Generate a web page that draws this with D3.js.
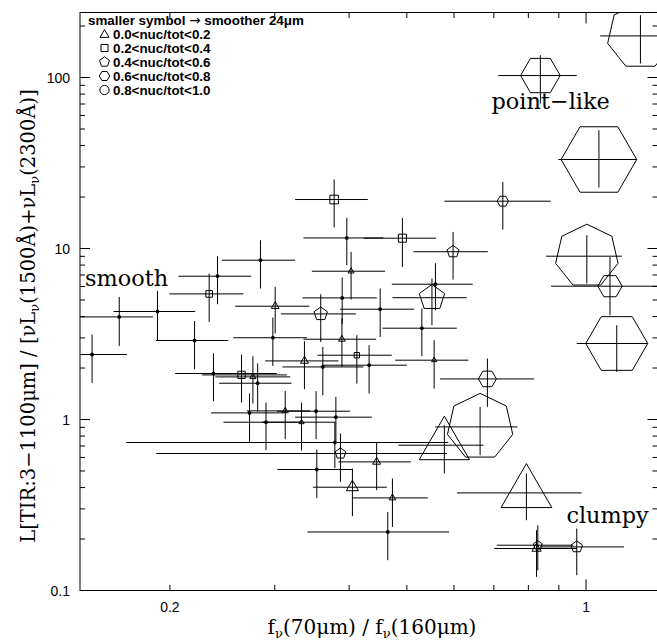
<!DOCTYPE html>
<html>
<head>
<meta charset="utf-8">
<script src="https://cdn.jsdelivr.net/npm/d3@7"></script>
<style>
  body { margin: 0; background: #fff; }
  svg { display: block; }
</style>
</head>
<body>
<svg id="chart" width="657" height="640"></svg>
<script>
// f_nu(70um)/f_nu(160um) colour of each galaxy
const farIRColour = [
  0.148, 0.1644, 0.1906, 0.2200, 0.2328, 0.2404, 0.2839, 0.3005, 0.2978, 0.3775,
  0.3964, 0.4915, 0.5979, 0.7247, 0.4030, 0.3894, 0.4510, 0.5510, 0.5585, 0.5299,
  0.5557, 0.3584, 0.3890, 0.4121, 0.4321, 0.3613, 0.3365, 0.2367, 0.2638, 0.2757,
  0.2808, 0.2721, 0.3124, 0.3520, 0.2900, 0.3327, 0.3800, 0.3785, 0.3868, 0.4449,
  0.3530, 0.4051, 0.4729, 0.4645, 0.5781, 0.6638, 0.6828, 0.7940, 0.8297, 0.8257,
  0.9647, 1.234, 0.8381, 1.051, 1.003, 1.097, 1.126
];
const colourLow = [
  0.13, 0.125, 0.1608, 0.1894, 0.1995, 0.2067, 0.2445, 0.2574, 0.2555, 0.3246,
  0.3352, 0.4227, 0.5129, 0.5781, 0.3463, 0.3339, 0.3864, 0.4729, 0.4718, 0.4550,
  0.4779, 0.3072, 0.3352, 0.3539, 0.3599, 0.3091, 0.2891, 0.2041, 0.2263, 0.2383,
  0.2419, 0.2344, 0.2694, 0.3025, 0.2460, 0.2855, 0.3246, 0.1689, 0.1897, 0.3838,
  0.3032, 0.3477, 0.4043, 0.3404, 0.4840, 0.5578, 0.5687, 0.6072, 0.7081, 0.7007,
  0.8371, 1.056, 0.7122, 0.8985, 0.8567, 0.8734, 0.9647
];
const colourHigh = [
  0.1694, 0.1873, 0.2206, 0.2507, 0.2658, 0.2738, 0.3246, 0.3430, 0.3397, 0.4300,
  0.4566, 0.5600, 0.6839, 0.8723, 0.4597, 0.4452, 0.5144, 0.6304, 0.6452, 0.6065,
  0.6343, 0.4106, 0.4440, 0.4718, 0.5000, 0.4227, 0.3838, 0.3025, 0.3144, 0.3184,
  0.3202, 0.3102, 0.3440, 0.4015, 0.3331, 0.3790, 0.4367, 0.5871, 0.5835, 0.5078,
  0.4043, 0.4628, 0.5422, 0.5888, 0.6723, 0.7670, 0.8179, 0.9827, 0.9521, 0.9658,
  1.158, 1.45, 0.9647, 1.217, 1.148, 1.40, 1.269
];
// L(TIR) / [nuL_nu(1500A) + nuL_nu(2300A)]
const irxRatio = [
  2.399, 3.981, 4.281, 2.897, 5.427, 6.887, 8.543, 4.598, 3.008, 19.34,
  11.53, 11.49, 9.579, 18.91, 7.365, 5.142, 4.416, 5.156, 6.183, 3.420,
  2.223, 4.145, 2.948, 2.377, 2.078, 2.030, 2.201, 1.858, 1.823, 1.775,
  1.630, 1.093, 1.123, 1.118, 0.9643, 0.9643, 1.032, 0.7336, 0.6326, 0.5650,
  0.5100, 0.4018, 0.3479, 0.2199, 0.7075, 0.9052, 1.727, 0.3722, 0.1840, 0.1760,
  0.1799, 175.1, 102.7, 33.16, 9.016, 6.020, 2.783
];
const irxHigh = [
  3.141, 5.212, 5.649, 3.772, 7.142, 9.016, 11.18, 5.963, 3.950, 25.32,
  15.10, 15.10, 12.51, 24.52, 9.553, 6.768, 5.835, 6.677, 8.204, 4.458,
  2.909, 5.405, 3.912, 3.112, 2.720, 2.658, 2.870, 2.442, 2.399, 2.345,
  2.126, 1.419, 1.470, 1.464, 1.257, 1.257, 1.356, 0.9682, 0.8283, 0.7396,
  0.6677, 0.5170, 0.4518, 0.2881, 0.9262, 1.185, 2.274, 0.4833, 0.2409, 0.2253,
  0.2305, 231.4, 135.0, 49.18, 11.96, 8.930, 3.560
];
const irxLow = [
  1.637, 2.694, 2.909, 1.968, 3.722, 4.724, 5.835, 3.184, 2.058, 13.27,
  7.986, 7.806, 6.588, 12.91, 5.030, 3.608, 3.041, 3.560, 4.357, 2.345,
  1.518, 2.843, 2.030, 1.624, 1.419, 1.387, 1.504, 1.279, 1.257, 1.240,
  1.108, 0.7396, 0.7670, 0.7670, 0.6615, 0.6588, 0.7466, 0.5190, 0.4316, 0.3861,
  0.3479, 0.2720, 0.2354, 0.1504, 0.4833, 0.6182, 1.185, 0.2577, 0.1314, 0.1201,
  0.1229, 120.8, 70.47, 22.74, 6.242, 4.073, 1.898
];
// nuc/tot bin of the 24um light: -1 = no decomposition, 0..4 = bins of 0.2
const nucBin = [
  -1, -1, -1, -1, 1, -1, -1, 0, -1, 1,
  -1, 1, 2, 3, 0, -1, -1, 2, -1, -1,
  0, 2, 0, 1, -1, -1, 0, -1, 1, 0,
  -1, -1, 0, -1, -1, 0, -1, -1, 2, 0,
  -1, 0, 0, -1, 0, 4, 3, 0, 2, 0,
  2, 4, 3, 3, 4, 3, 3
];
// symbol size: smaller symbol -> smoother 24um morphology
const symbolSize = [
  0, 0, 0, 0, 0.94, 0, 0, 0.9, 0, 1.22,
  0, 1.14, 1.26, 1.14, 0.7, 0, 0, 2.66, 0, 0,
  0.6, 1.4, 0.78, 0.76, 0, 0, 0.92, 0, 1.04, 0.7,
  0, 0, 0.7, 0, 0, 0.6, 0, 0, 1.12, 0.92,
  0, 1.4, 0.78, 0, 5.8, 6.7, 1.8, 5.86, 0.92, 1.08,
  1.2, 6.72, 3.96, 7.56, 6.4, 2.44, 6.2
];
const binLabels = ["0.0<nuc/tot<0.2", "0.2<nuc/tot<0.4", "0.4<nuc/tot<0.6", "0.6<nuc/tot<0.8", "0.8<nuc/tot<1.0"];
const binSides = [3, 4, 5, 6, 7];
const xTickLabels = [0.2, 1];
const yTickLabels = [0.1, 1, 10, 100];
const regionLabels = ["smooth", "point\u2212like", "clumpy"];
const regionAt = [[0.1440, 6.04], [0.6937, 65.2], [0.9268, 0.2472]];

const svg = d3.select("#chart");
const frameL = 80, frameR = 657.5, frameT = 12.5, frameB = 590.5;
const x = d3.scaleLog().domain([Math.pow(10, -0.85), Math.pow(10, 0.12)]).range([frameL, frameR]);
const y = d3.scaleLog().domain([0.1, 240]).range([frameB, frameT]);
const radius = d3.scaleLinear().domain([0, 1]).range([0, 5]);

const serif = "'DejaVu Serif', serif";
const sans = "'Liberation Sans', Arial, sans-serif";

function polygon(cx, cy, n, R) {
  const start = n === 6 ? 0 : n === 4 ? Math.PI / 4 : -Math.PI / 2;
  const pts = d3.range(n).map(k => {
    const a = start + k * 2 * Math.PI / n;
    return [cx + R * Math.cos(a), cy + R * Math.sin(a)];
  });
  return "M" + pts.map(p => p[0].toFixed(2) + "," + p[1].toFixed(2)).join("L") + "Z";
}

svg.append("defs").append("clipPath").attr("id", "plotArea")
  .append("rect").attr("x", frameL).attr("y", frameT)
  .attr("width", frameR - frameL).attr("height", frameB - frameT);

// data marks
const data = farIRColour.map((v, i) => ({
  x: v, xl: colourLow[i], xh: colourHigh[i],
  y: irxRatio[i], yl: irxLow[i], yh: irxHigh[i],
  bin: nucBin[i], size: symbolSize[i]
}));

const marks = svg.append("g").attr("clip-path", "url(#plotArea)")
  .attr("stroke", "#000").attr("fill", "none").attr("stroke-width", 1);

marks.selectAll("line.xerr").data(data).join("line").attr("class", "xerr")
  .attr("x1", d => x(d.xl)).attr("x2", d => x(d.xh))
  .attr("y1", d => y(d.y)).attr("y2", d => y(d.y));
marks.selectAll("line.yerr").data(data).join("line").attr("class", "yerr")
  .attr("x1", d => x(d.x)).attr("x2", d => x(d.x))
  .attr("y1", d => y(d.yl)).attr("y2", d => y(d.yh));

marks.selectAll("circle.dot").data(data.filter(d => d.bin < 0)).join("circle")
  .attr("class", "dot")
  .attr("cx", d => x(d.x)).attr("cy", d => y(d.y)).attr("r", 1.9)
  .attr("fill", "#000").attr("stroke", "none");

marks.selectAll("path.sym").data(data.filter(d => d.bin >= 0)).join("path")
  .attr("class", "sym")
  .attr("d", d => polygon(x(d.x), y(d.y), binSides[d.bin], radius(d.size)));

// frame and ticks
const axes = svg.append("g").attr("stroke", "#000").attr("stroke-width", 1);
axes.append("rect").attr("x", frameL).attr("y", frameT)
  .attr("width", frameR - frameL).attr("height", frameB - frameT).attr("fill", "none");

const isDecade = v => Math.abs(Math.log10(v) - Math.round(Math.log10(v))) < 1e-6;
x.ticks().forEach(v => {
  const len = isDecade(v) ? 11 : 5.5;
  const px = x(v);
  axes.append("line").attr("x1", px).attr("x2", px).attr("y1", frameB).attr("y2", frameB - len);
  axes.append("line").attr("x1", px).attr("x2", px).attr("y1", frameT).attr("y2", frameT + len);
});
y.ticks().forEach(v => {
  const len = isDecade(v) ? 10 : 5;
  const py = y(v);
  axes.append("line").attr("x1", frameL).attr("x2", frameL + len).attr("y1", py).attr("y2", py);
  axes.append("line").attr("x1", frameR).attr("x2", frameR - len).attr("y1", py).attr("y2", py);
});

// tick labels
svg.append("g").selectAll("text").data(xTickLabels).join("text")
  .attr("x", d => x(d)).attr("y", 612).attr("text-anchor", "middle")
  .attr("font-family", sans).attr("font-size", 14).text(d => d);
svg.append("g").selectAll("text").data(yTickLabels).join("text")
  .attr("x", 70).attr("y", d => y(d) + 5).attr("text-anchor", "end")
  .attr("font-family", sans).attr("font-size", 14).text(d => d);

// axis titles
const xTitle = svg.append("text").attr("x", 372).attr("y", 634)
  .attr("text-anchor", "middle").attr("font-family", serif).attr("font-size", 20);
xTitle.append("tspan").text("f");
xTitle.append("tspan").attr("font-size", 13).attr("dy", 4).text("\u03bd");
xTitle.append("tspan").attr("dy", -4).text("(70\u03bcm) / f");
xTitle.append("tspan").attr("font-size", 13).attr("dy", 4).text("\u03bd");
xTitle.append("tspan").attr("dy", -4).text("(160\u03bcm)");

const yTitle = svg.append("text")
  .attr("transform", "translate(35,316) rotate(-90)")
  .attr("text-anchor", "middle").attr("font-family", serif).attr("font-size", 19.5);
yTitle.append("tspan").text("L[TIR:3\u22121100\u03bcm] / [\u03bdL");
yTitle.append("tspan").attr("font-size", 13).attr("dy", 4).text("\u03bd");
yTitle.append("tspan").attr("dy", -4).text("(1500\u00c5)+\u03bdL");
yTitle.append("tspan").attr("font-size", 13).attr("dy", 4).text("\u03bd");
yTitle.append("tspan").attr("dy", -4).text("(2300\u00c5)]");

// region annotations
svg.append("g").selectAll("text").data(regionLabels).join("text")
  .attr("x", (d, i) => x(regionAt[i][0])).attr("y", (d, i) => y(regionAt[i][1]))
  .attr("font-family", serif).attr("font-size", 22.4).text(d => d);

// legend
const legend = svg.append("g").attr("font-family", sans).attr("font-weight", "bold").attr("font-size", 13.4);
const head = legend.append("text").attr("x", 88).attr("y", 25);
head.append("tspan").text("smaller symbol ");
head.append("tspan").attr("font-family", "'DejaVu Sans', sans-serif").attr("font-weight", "normal").text("\u2192");
head.append("tspan").text(" smoother 24\u03bcm");
binLabels.forEach((t, i) => {
  const cy = 34 + 14 * i;
  if (i < 4) {
    legend.append("path").attr("d", polygon(104.5, cy + (i === 0 ? 0.8 : 0), binSides[i], i === 1 ? 5 : 5.2))
      .attr("fill", "none").attr("stroke", "#000").attr("stroke-width", 1);
  } else {
    legend.append("circle").attr("cx", 104.5).attr("cy", cy).attr("r", 4.6)
      .attr("fill", "none").attr("stroke", "#000").attr("stroke-width", 1);
  }
  legend.append("text").attr("x", 113).attr("y", cy + 5).text(t);
});
</script>
</body>
</html>
